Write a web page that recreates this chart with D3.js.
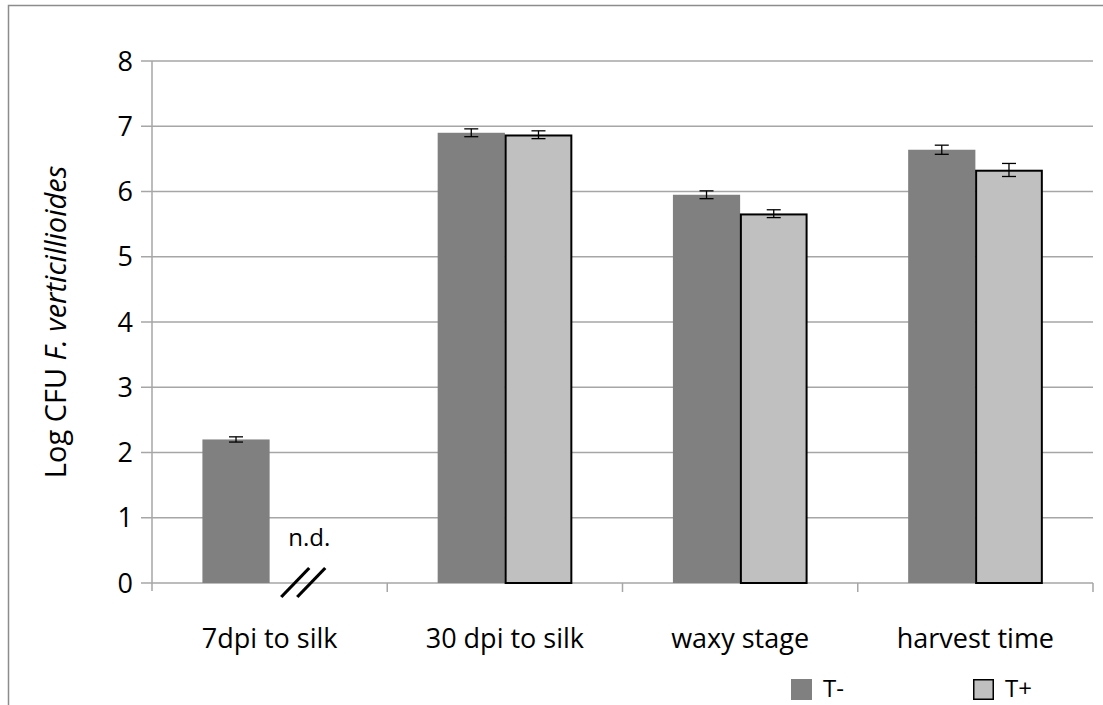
<!DOCTYPE html>
<html><head><meta charset="utf-8">
<script src="https://cdn.jsdelivr.net/npm/d3@7"></script>
<style>
body{margin:0;background:#fff;}
text{font-family:"Comic Sans MS","Open Sans","DejaVu Sans",sans-serif;fill:#000;}
</style></head>
<body><svg id="c" width="1103" height="705"></svg>
<script>
const categories = ["7dpi to silk","30 dpi to silk","waxy stage","harvest time"];
const seriesNames = ["T-","T+"];
const valuesTminus = [2.20, 6.90, 5.95, 6.64];
const valuesTplus  = [null, 6.87, 5.66, 6.33];
const errTminus = [0.04, 0.06, 0.06, 0.07];
const errTplus  = [null, 0.06, 0.06, 0.10];
const yTicks = [0,1,2,3,4,5,6,7,8];
const colors = ["#808080","#c0c0c0"];

const svg = d3.select("#c");
const W = 1103, H = 705;
const x0 = 152, x1 = 1093, yTop = 61, yBot = 583;

// frame
svg.append("path").attr("d",`M8.5,${H+2} V5.5 H${W+2}`).attr("fill","none").attr("stroke","#8c8c8c").attr("stroke-width",1.5);

const x = d3.scaleBand().domain(categories).range([x0,x1]).paddingInner(0).paddingOuter(0);
const xs = d3.scaleBand().domain(seriesNames).range([0,x.bandwidth()]).paddingInner(0).paddingOuter(0.75);
const y = d3.scaleLinear().domain([0,8]).range([yBot,yTop]);

// gridlines
svg.append("g").selectAll("line").data(yTicks).join("line")
  .attr("x1",x0-11).attr("x2",x1).attr("y1",d=>y(d)).attr("y2",d=>y(d))
  .attr("stroke","#a6a6a6").attr("stroke-width",1.5);
// y axis line
svg.append("line").attr("x1",x0).attr("x2",x0).attr("y1",yTop).attr("y2",yBot+8).attr("stroke","#a6a6a6").attr("stroke-width",1.5);
// x ticks
svg.append("g").selectAll("line").data(categories).join("line")
  .attr("x1",d=>x(d)+x.bandwidth()).attr("x2",d=>x(d)+x.bandwidth())
  .attr("y1",yBot).attr("y2",yBot+9).attr("stroke","#a6a6a6").attr("stroke-width",1.5);

// y tick labels
svg.append("g").selectAll("text").data(yTicks).join("text")
  .attr("x",133).attr("y",d=>y(d)).attr("dy","0.36em").attr("text-anchor","end")
  .attr("font-size",27).text(d=>d);

// bars
const seriesVals = [valuesTminus, valuesTplus];
const seriesErr = [errTminus, errTplus];
seriesNames.forEach((s,si)=>{
  const g = svg.append("g");
  const data = categories.map((c,i)=>({c, v:seriesVals[si][i], e:seriesErr[si][i]})).filter(d=>d.v!=null);
  g.selectAll("rect").data(data).join("rect")
    .attr("x",d=>x(d.c)+xs(s)+(si===1?0.75:0)).attr("width",xs.bandwidth()-(si===1?1.5:0))
    .attr("y",d=>y(d.v)+(si===1?0.75:0)).attr("height",d=>y(0)-y(d.v)-(si===1?0.75:0))
    .attr("fill",colors[si]).attr("stroke",si===1?"#000":"none").attr("stroke-width",2);
  const eg = g.selectAll("g.err").data(data).join("g").attr("class","err");
  const cx = d=>x(d.c)+xs(s)+xs.bandwidth()/2;
  eg.append("line").attr("x1",cx).attr("x2",cx).attr("y1",d=>y(d.v+d.e)).attr("y2",d=>y(d.v-d.e)).attr("stroke","#000").attr("stroke-width",1.3);
  eg.append("line").attr("x1",d=>cx(d)-7).attr("x2",d=>cx(d)+7).attr("y1",d=>y(d.v+d.e)).attr("y2",d=>y(d.v+d.e)).attr("stroke","#000").attr("stroke-width",1.3);
  eg.append("line").attr("x1",d=>cx(d)-7).attr("x2",d=>cx(d)+7).attr("y1",d=>y(d.v-d.e)).attr("y2",d=>y(d.v-d.e)).attr("stroke","#000").attr("stroke-width",1.3);
});

// n.d. marker
categories.forEach((c,i)=>{
  if(valuesTplus[i]==null){
    const cx = x(c)+xs("T+")+xs.bandwidth()/2;
    svg.append("text").attr("x",cx+6).attr("y",y(0)-37).attr("text-anchor","middle").attr("font-size",24).text("n.d.");
    [-8,8].forEach(o=>{
      svg.append("line").attr("x1",cx+o-14).attr("y1",y(0)+14).attr("x2",cx+o+14).attr("y2",y(0)-15)
        .attr("stroke","#000").attr("stroke-width",3.2);
    });
  }
});

// x labels
svg.append("g").selectAll("text").data(categories).join("text")
  .attr("x",d=>x(d)+x.bandwidth()/2).attr("y",648).attr("text-anchor","middle").attr("font-size",27).text(d=>d);

// y label
const yl = svg.append("text").attr("transform",`translate(66,${(yTop+yBot)/2}) rotate(-90)`)
  .attr("text-anchor","middle").attr("font-size",29);
yl.append("tspan").text("Log CFU ");
yl.append("tspan").attr("font-style","italic").text("F. verticillioides");

// legend
const legX = [791, 973];
seriesNames.forEach((s,i)=>{
  svg.append("rect").attr("x",legX[i]+(i?0.75:0)).attr("y",679+(i?0.75:0)).attr("width",21-(i?1.5:0)).attr("height",21-(i?1.5:0))
    .attr("fill",colors[i]).attr("stroke",i?"#000":"none").attr("stroke-width",1.5);
  svg.append("text").attr("x",legX[i]+32).attr("y",697).attr("font-size",24).text(s);
});
</script></body></html>
